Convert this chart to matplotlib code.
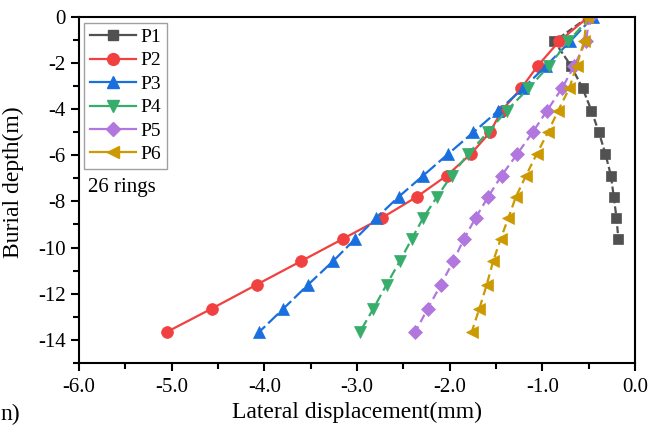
import matplotlib
matplotlib.use("Agg")
import matplotlib.pyplot as plt
from matplotlib.lines import Line2D
from matplotlib.ticker import MultipleLocator, FormatStrFormatter

plt.rcParams['font.family'] = ['Liberation Serif', 'DejaVu Serif']
plt.rcParams['lines.scale_dashes'] = False

# burial depth (m) of the measuring points
depth = [0, -1.07, -2.13, -3.11, -4.07, -5.01, -5.94, -6.88, -7.79,
         -8.71, -9.63, -10.58, -11.6, -12.65, -13.65]
depth_p1 = depth[:11]

# lateral displacement (mm)
p1 = [-0.50, -0.87, -0.69, -0.565, -0.47, -0.39, -0.32, -0.26, -0.23, -0.20, -0.18]
p2 = [-0.50, -0.82, -1.05, -1.23, -1.44, -1.565, -1.77, -2.03, -2.35, -2.73,
      -3.155, -3.60, -4.08, -4.57, -5.05]
p3 = [-0.45, -0.70, -0.96, -1.21, -1.475, -1.745, -2.015, -2.285, -2.547, -2.79,
      -3.02, -3.256, -3.526, -3.795, -4.054]
p4 = [-0.48, -0.72, -0.93, -1.15, -1.385, -1.59, -1.80, -1.98, -2.134, -2.285,
      -2.41, -2.537, -2.68, -2.824, -2.968]
p5 = [-0.49, -0.53, -0.655, -0.79, -0.95, -1.105, -1.27, -1.44, -1.583, -1.72,
      -1.846, -1.96, -2.094, -2.238, -2.371]
p6 = [-0.52, -0.55, -0.63, -0.71, -0.83, -0.94, -1.06, -1.176, -1.284, -1.367,
      -1.45, -1.53, -1.60, -1.68, -1.762]

names = ["P1", "P2", "P3", "P4", "P5", "P6"]
colors = ["#515151", "#F14040", "#1A6FDF", "#37AD6B", "#B177DE", "#CC9900"]
markers = ["s", "o", "^", "v", "D", "<"]
msizes = [7, 8.5, 9, 9, 7, 9]
dashes = [(5, 2.2), None, (10, 3), (7, 3.5), (6, 3.5), (6, 3.5)]

fig = plt.figure(figsize=(6.55, 4.3), dpi=100)
ax = fig.add_axes([0.1206, 0.1558, 0.8489, 0.8054])

series = [(p1, depth_p1), (p2, depth), (p3, depth), (p4, depth), (p5, depth), (p6, depth)]
handles = []
for (xs, ys), name, c, m, ms, d in zip(series, names, colors, markers, msizes, dashes):
    line, = ax.plot(xs, ys, color=c, marker=m, markersize=ms, lw=1.6,
                    markeredgecolor=c, markeredgewidth=0.5)
    if d is not None:
        line.set_dashes(d)
    # legend in the reference shows solid lines
    handles.append(Line2D([], [], color=c, marker=m, markersize=ms, lw=1.6, label=name))

ax.set_xlim(-6, 0)
ax.set_ylim(-15, 0)
ax.xaxis.set_major_locator(MultipleLocator(1))
ax.xaxis.set_minor_locator(MultipleLocator(0.5))
ax.yaxis.set_major_locator(MultipleLocator(2))
ax.yaxis.set_minor_locator(MultipleLocator(1))
ax.xaxis.set_major_formatter(FormatStrFormatter('%.1f'))
ax.yaxis.set_major_formatter(FormatStrFormatter('%d'))
ax.tick_params(which='both', direction='out', width=1.5, labelsize=15,
               top=False, right=False)
ax.tick_params(which='major', length=6)
ax.tick_params(which='minor', length=4)
ax.tick_params(axis='x', which='major', pad=5)
for s in ax.spines.values():
    s.set_linewidth(1.5)

ax.set_xlabel("Lateral displacement(mm)", fontsize=17, labelpad=3)
ax.set_ylabel("Burial depth(m)", fontsize=17)
ax.yaxis.set_label_coords(-0.099, 0.523)

leg = ax.legend(handles=handles, loc='upper left', bbox_to_anchor=(0.009, 0.983),
                borderaxespad=0, fontsize=14, frameon=True, fancybox=False,
                handlelength=2.4, handletextpad=0.2, labelspacing=0.3,
                borderpad=0.3)
leg.get_frame().set_edgecolor("#888888")
leg.get_frame().set_linewidth(1.0)

ax.text(0.016, 0.506, "26 rings", transform=ax.transAxes, fontsize=15,
        ha='left', va='center')

# clipped label fragment at the lower left edge
fig.text(0.0, 0.035, "n)", fontsize=17, ha='left', va='center')

fig.savefig("out.png", dpi=100)
